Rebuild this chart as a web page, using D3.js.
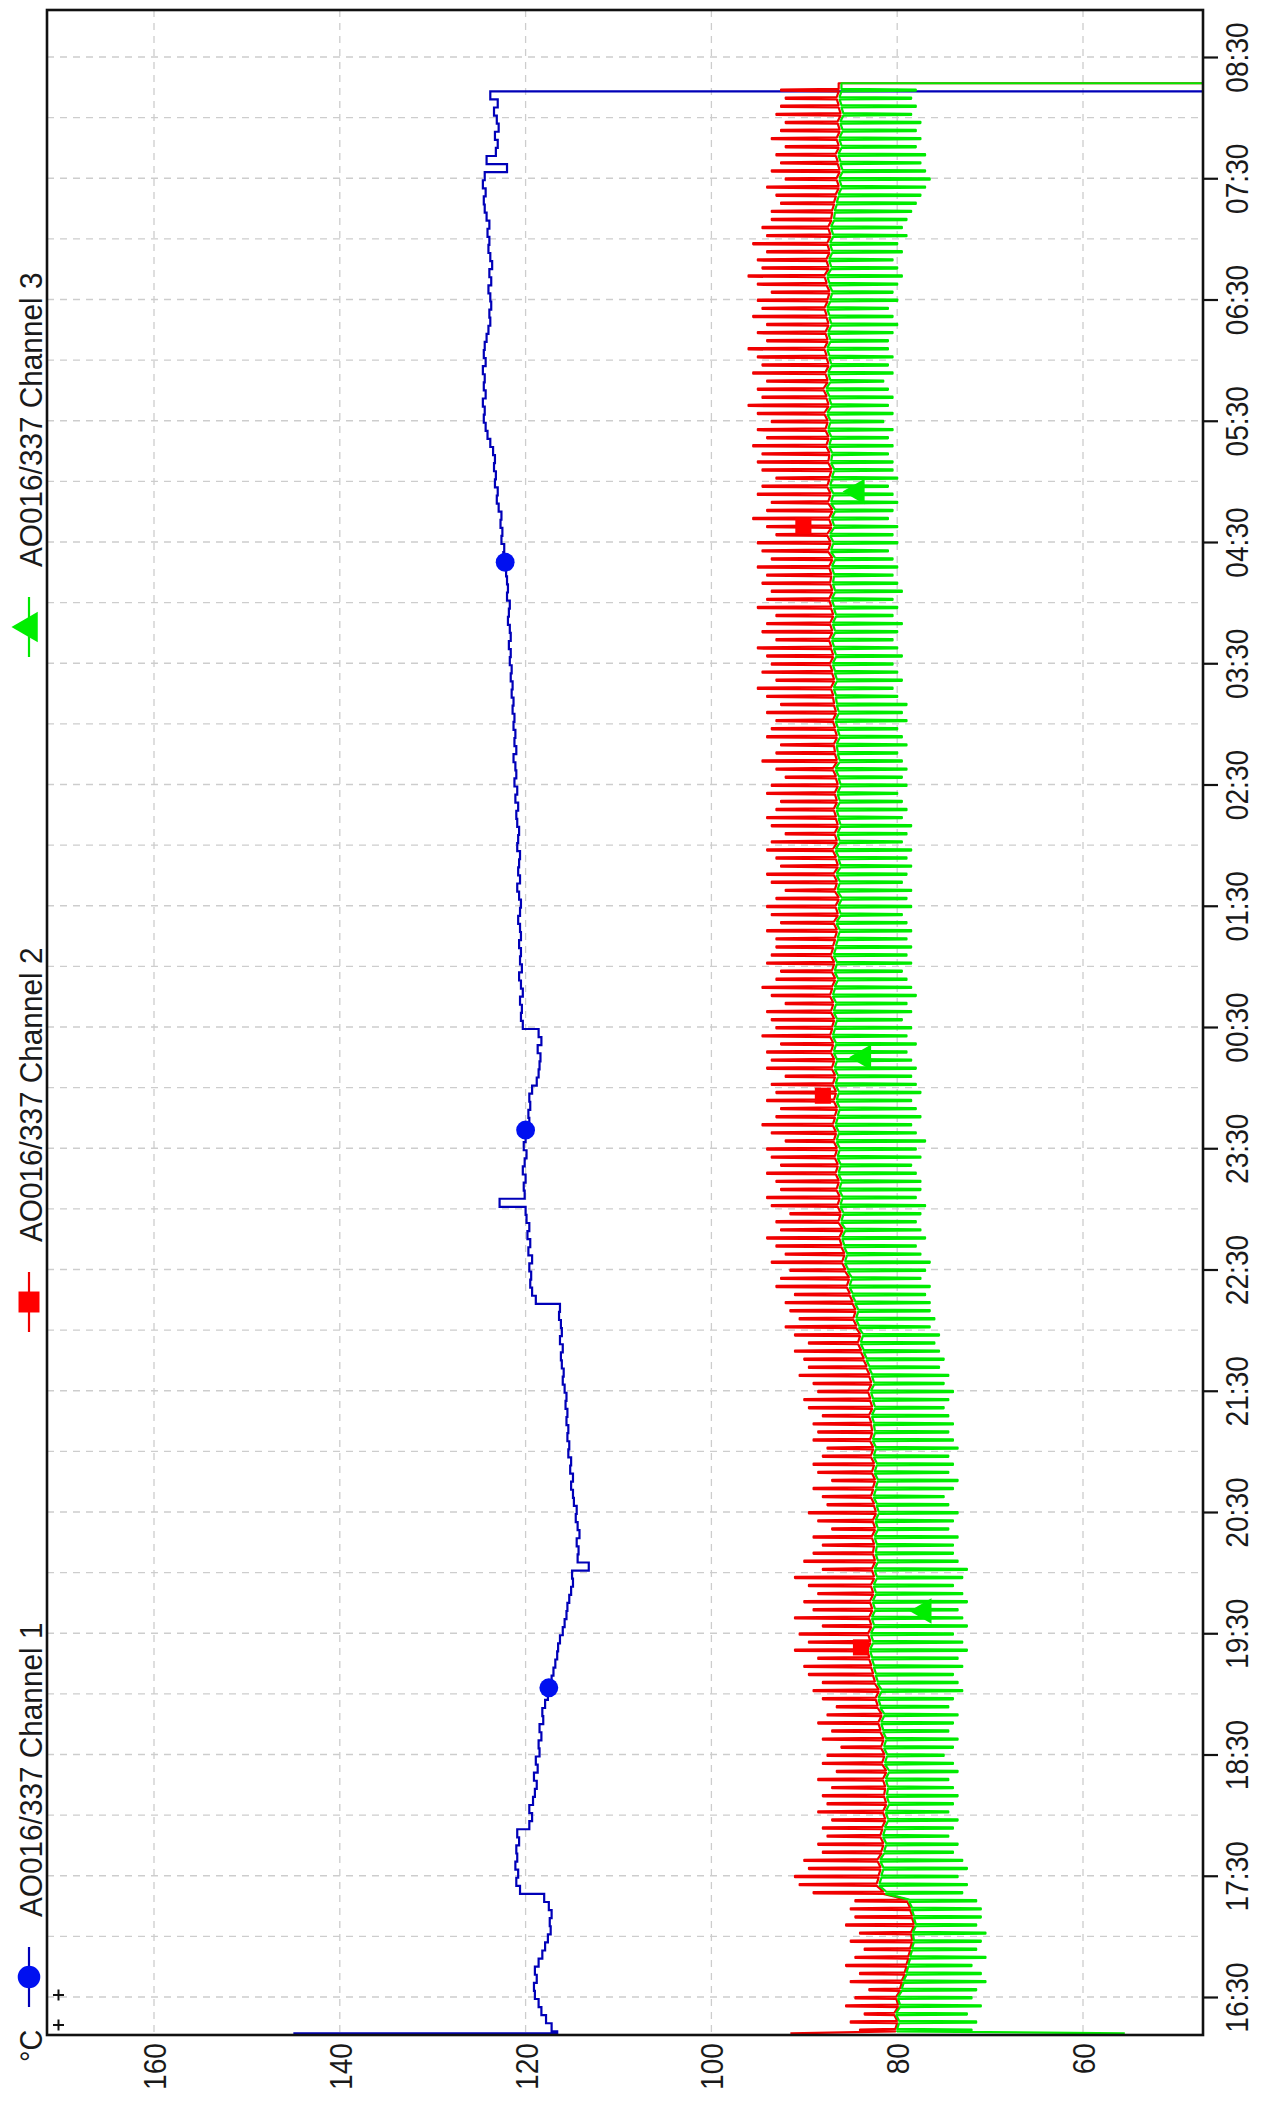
<!DOCTYPE html>
<html><head><meta charset="utf-8">
<script src="https://cdn.jsdelivr.net/npm/d3@7"></script>
<style>body{margin:0;background:#fff}svg{display:block}</style>
</head><body><svg id="c" width="1263" height="2101"></svg>
<script>
// ---------- data ----------
const seriesNames = ["AO016/337 Channel 1", "AO016/337 Channel 2", "AO016/337 Channel 3"];
const unitLabel = "°C";
const valueTicks = [160, 140, 120, 100, 80, 60];
const timeTickLabels = ["16:30","17:30","18:30","19:30","20:30","21:30","22:30","23:30","00:30","01:30","02:30","03:30","04:30","05:30","06:30","07:30","08:30"];
const firstSampleTime = "16:13";   // first regular sample
const sampleStepMin = 4;           // minutes between samples
const startTime = "16:12";         // logger connect
const endTime = "08:17";           // logger disconnect
const startValues = [145, 91.5, 55.5];
const endValues = [30, 30, 30];

// Channel 1 (one value per sample)
const ch1 = [
116.6,117.2,117.8,118.3,118.6,119.0,119.1,118.8,119.0,118.6,118.2,117.9,117.6,117.3,117.4,
117.2,117.5,118.0,120.6,121.0,120.8,121.1,120.9,121.0,120.7,120.9,119.6,119.3,119.6,119.2,
119.0,118.8,119.1,118.7,118.9,118.5,118.6,118.3,118.5,118.1,118.2,117.9,117.6,117.5,117.2,
117.0,116.8,116.6,116.5,116.3,116.0,115.8,115.6,115.5,115.3,115.1,114.9,115.0,113.2,114.4,
114.3,114.5,114.2,114.4,114.6,114.5,114.8,114.9,115.1,114.9,115.2,115.1,115.4,115.3,115.5,
115.4,115.6,115.5,115.7,115.6,115.8,116.0,115.9,116.1,116.2,116.0,116.3,116.1,116.2,116.4,
116.3,118.9,119.3,119.5,119.4,119.6,119.3,119.7,119.5,119.8,119.6,119.9,120.0,122.8,120.1,
120.2,120.0,120.3,120.1,119.9,120.2,120.0,119.8,119.6,119.7,119.5,119.6,119.3,118.8,118.6,
118.5,118.4,118.7,118.3,118.6,120.3,120.5,120.4,120.6,120.3,120.5,120.7,120.4,120.6,120.5,
120.7,120.5,120.6,120.8,120.6,120.5,120.7,120.9,120.6,120.8,120.7,120.6,120.9,120.8,120.7,
120.9,121.0,120.8,121.1,120.9,121.2,121.0,121.1,121.3,121.0,121.2,121.1,121.3,121.2,121.4,
121.3,121.5,121.4,121.6,121.5,121.7,121.6,121.8,121.6,121.7,121.9,121.8,121.7,122.0,121.9,
122.0,122.1,122.2,122.4,122.3,122.6,122.5,122.7,122.6,122.9,123.1,123.0,123.3,123.2,123.4,
123.3,123.5,123.8,124.1,124.3,124.5,124.4,124.6,124.3,124.5,124.4,124.6,124.3,124.5,124.4,
124.2,124.0,123.8,123.9,123.7,123.8,124.0,123.7,123.9,123.6,123.8,124.0,123.9,124.1,123.9,
124.2,124.4,124.5,124.3,124.6,124.4,122.0,124.2,123.2,123.0,123.3,122.9,123.1,123.4,123.0,
123.8];

// Channel 2: resting value at each sample and the short spike that follows it
const ch2Base = [
80.2,80.0,80.3,79.9,80.1,79.7,79.5,79.2,79.0,78.8,78.6,78.4,78.5,78.2,78.4,
78.6,78.9,81.5,82.2,82.0,81.8,82.1,81.7,81.5,81.8,81.6,81.3,81.5,81.2,81.4,
81.3,81.5,81.2,81.6,81.4,81.7,81.5,81.8,82.0,81.7,82.1,82.3,82.0,82.4,82.6,
82.8,83.0,83.2,82.9,83.1,82.8,83.0,82.7,82.9,82.6,82.8,82.5,82.7,82.4,82.6,
82.5,82.7,82.4,82.6,82.3,82.5,82.8,82.6,82.4,82.7,82.5,82.8,82.6,82.9,82.7,
82.8,83.0,82.7,82.9,83.1,82.8,83.0,83.3,83.6,83.9,84.2,84.0,84.4,84.7,84.5,
84.8,85.1,85.4,85.2,85.6,85.9,85.7,86.0,86.2,85.9,86.3,86.1,86.4,86.2,86.5,
86.3,86.6,86.4,86.7,86.5,86.8,86.6,86.9,86.7,86.5,86.8,86.6,86.9,86.7,87.0,
86.8,87.1,86.9,87.2,87.0,86.8,87.1,86.9,87.2,87.0,86.7,87.0,86.8,87.1,86.9,
86.7,86.5,86.8,86.4,86.6,86.3,86.7,86.5,86.8,86.4,86.6,86.9,86.5,86.7,86.4,
86.6,86.8,86.5,86.7,86.4,86.6,86.9,86.5,86.7,86.8,86.5,86.7,86.9,86.6,86.8,
86.9,87.1,86.8,87.0,87.2,86.9,87.1,87.3,87.0,87.2,86.9,87.1,87.3,87.0,87.2,
87.1,87.3,87.0,87.4,87.2,87.5,87.1,87.3,87.0,87.4,87.2,87.5,87.3,87.1,87.4,
87.3,87.6,87.4,87.7,87.5,87.8,87.4,87.6,87.9,87.5,87.7,87.4,87.6,87.8,87.5,
87.7,87.4,87.6,87.8,87.5,87.3,87.6,87.8,87.4,87.6,87.3,87.5,87.2,87.4,87.1,
87.0,86.8,86.6,86.3,86.5,86.2,86.4,86.6,86.3,86.5,86.2,86.4,86.1,86.3,86.5,
86.3];
const ch2Peak = [
84,85,83.5,85.5,84.5,83,85,84,85.5,84.5,83.5,85,84,85.5,84.5,
85,84.5,89,90.5,91,89.5,90,88,88.5,87.5,88,87,88.5,87.5,88,
87,88.5,86.5,88,87.5,86,88,87,88.5,87.5,86.5,88,89,88,89.5,
90,88.5,91,89.5,90.5,88,91,89,90,88.5,89.5,91,88,90,89,
88,89,87,88.5,89.5,87.5,88,89,87,88.5,89,88,87.5,89,88.5,
89,88,89.5,90,88.5,89,90.5,89.5,90,91,89.5,91,92,90.5,91.5,
92,91,93,92.5,91.5,93.5,92,93,94,92.5,93,91.5,93.5,94,92.5,
93,94,92.5,93.5,94,92,93.5,94.5,93,92.5,94,93,93.5,92,94,
93.5,94,92.5,94.5,93,93.5,94,92,93.5,94.5,93,92.5,94,93.5,93,
93,94,92.5,93.5,94,93,92,93.5,94,92.5,93,94,93.5,92,93.5,
94,93,92.5,94,93.5,92,93,94.5,93,92.5,94,93.5,93,94,92.5,
94,95,93,94.5,93.5,94,95,93,94.5,94,93,95,94,93.5,94.5,
94,95,93.5,94.5,95,93,94,95.5,94,93.5,95,94.5,93,94.5,95,
94.5,95.5,94,95,93.5,95,96,94.5,95,94,95.5,94.5,95,96,94,
95,94,95.5,94.5,95,93.5,95,96,94.5,95,94,95.5,94,94.5,93.5,
93.5,92.5,93,94,92,93.5,92.5,93,92,93.5,92.5,92,93,92.5,92,
92.5];

// Channel 3: resting value at each sample and the short dip that follows it
const ch3Base = [
80.0,79.8,80.1,79.7,79.9,79.5,79.3,79.0,78.8,78.6,78.4,78.2,78.3,78.0,78.2,
78.4,78.7,81.2,81.9,81.7,81.5,81.8,81.4,81.2,81.5,81.3,81.0,81.2,80.9,81.1,
81.0,81.2,80.9,81.3,81.1,81.4,81.2,81.5,81.7,81.4,81.8,82.0,81.7,82.1,82.3,
82.5,82.7,82.9,82.6,82.8,82.5,82.7,82.4,82.6,82.3,82.5,82.2,82.4,82.1,82.3,
82.2,82.4,82.1,82.3,82.0,82.2,82.5,82.3,82.1,82.4,82.2,82.5,82.3,82.6,82.4,
82.5,82.7,82.4,82.6,82.8,82.5,82.7,83.0,83.3,83.6,83.9,83.7,84.1,84.4,84.2,
84.5,84.8,85.1,84.9,85.3,85.6,85.4,85.7,85.9,85.6,86.0,85.8,86.1,85.9,86.2,
86.0,86.3,86.1,86.4,86.2,86.5,86.3,86.6,86.4,86.2,86.5,86.3,86.6,86.4,86.7,
86.5,86.8,86.6,86.9,86.7,86.5,86.8,86.6,86.9,86.7,86.4,86.7,86.5,86.8,86.6,
86.4,86.2,86.5,86.1,86.3,86.0,86.4,86.2,86.5,86.1,86.3,86.6,86.2,86.4,86.1,
86.3,86.5,86.2,86.4,86.1,86.3,86.6,86.2,86.4,86.5,86.2,86.4,86.6,86.3,86.5,
86.6,86.8,86.5,86.7,86.9,86.6,86.8,87.0,86.7,86.9,86.6,86.8,87.0,86.7,86.9,
86.8,87.0,86.7,87.1,86.9,87.2,86.8,87.0,86.7,87.1,86.9,87.2,87.0,86.8,87.1,
87.0,87.3,87.1,87.4,87.2,87.5,87.1,87.3,87.6,87.2,87.4,87.1,87.3,87.5,87.2,
87.4,87.1,87.3,87.5,87.2,87.0,87.3,87.5,87.1,87.3,87.0,87.2,86.9,87.1,86.8,
86.7,86.5,86.3,86.0,86.2,85.9,86.1,86.3,86.0,86.2,85.9,86.1,85.8,86.0,86.2,
86.0];
const ch3Dip = [
72,71.5,72.5,71,72,71.5,70.5,71,72,70.5,71.5,71,70.5,71.5,71,
71,71.5,73,72.5,73.5,72.5,73,74,73.5,74.5,74,73.5,74.5,74,73.5,
74,74.5,73.5,74,75,74,73.5,74.5,74,73.5,74.5,74,73,73.5,74,
73,73.5,72.5,73,74,72.5,73,73.5,72.5,73,74,73,72.5,73.5,74,
74,73.5,74.5,74,73.5,74.5,75,74,73.5,74.5,74,74.5,73.5,74,74.5,
74,74.5,75,74.5,74,75,74.5,75.5,75,75.5,76,75.5,76.5,76,76.5,
76.5,77,76.5,77.5,77,76.5,77.5,78,77,77.5,78,77.5,77,78,77.5,
77.5,78,78.5,77.5,78,77,78,78.5,77.5,78,78.5,77.5,78,78.5,78,
78.5,79,78,79,78.5,79.5,78.5,79,78,78.5,79,79.5,78.5,79,78.5,
79,78.5,79,79.5,78.5,79,78.5,79.5,79,78.5,79,78.5,79.5,79,78.5,
79.5,79,79.5,80,79,79.5,79,79.5,80,79,79.5,80,79,79.5,79,
80,80.5,79.5,80,80.5,79.5,80,80.5,80,79.5,80.5,80,80.5,79.5,80,
80.5,80,80.5,81,80,80.5,80,81,80.5,80,80.5,81,80,80.5,80.5,
81,80.5,81,80.5,81.5,80.5,81,80.5,81,81.5,80.5,81,80.5,81,81,
80.5,80,80.5,81,80,80.5,80,79.5,80,80.5,79.5,80,79,79.5,79,
78.5,78,77.5,77,76.5,77,77.5,77,78,77.5,78,77.5,78.5,78,78.5,
78];

// marker positions (time, value) for each channel
const ch1MarkTimes = ["19:03", "23:39", "04:20"];
const ch1MarkValues = [117.5, 120.0, 122.2];
const ch2MarkTimes = ["19:23", "23:56", "04:38"];
const ch2MarkValues = [83.9, 88.0, 90.1];
const ch3MarkTimes = ["19:41", "00:15", "04:55"];
const ch3MarkValues = [77.1, 83.6, 84.3];

// ---------- styles ----------
const colors = ["#0000b8", "#f00000", "#00ea00"];
const markColors = ["#0010f0", "#ff0000", "#00ee00"];
const FONT = "'Liberation Sans','Arial',sans-serif";
const TXT = "#1a1a1a";

// ---------- layout ----------
const plot = {left: 47, right: 1203, top: 10, bottom: 2035};
const svg = d3.select("#c");
svg.append("rect").attr("width", 1263).attr("height", 2101).attr("fill", "#fff");

const parseHM = s => { const [h, m] = s.split(":").map(Number); return new Date(2021, 0, h >= 12 ? 1 : 2, h, m); };
const addMin = (d, m) => new Date(d.getTime() + m * 60000);

const x = d3.scaleLinear().domain([160, 60]).range([154, 1083]);
const y = d3.scaleTime().domain([parseHM("16:30"), parseHM("08:30")]).range([1997, 57]);

// clip
svg.append("defs").append("clipPath").attr("id", "clip")
  .append("rect").attr("x", plot.left).attr("y", plot.top)
  .attr("width", plot.right - plot.left).attr("height", plot.bottom - plot.top);

// grid
const grid = svg.append("g").attr("stroke", "#cdcdcd").attr("stroke-width", 1.3).attr("stroke-dasharray", "7,6");
const halfHours = d3.timeMinute.every(30).range(y.invert(plot.bottom), y.invert(plot.top));
grid.selectAll("line.h").data(halfHours).join("line").attr("class", "h")
  .attr("x1", plot.left).attr("x2", plot.right).attr("y1", d => y(d)).attr("y2", d => y(d));
grid.selectAll("line.v").data(valueTicks).join("line").attr("class", "v")
  .attr("x1", d => x(d)).attr("x2", d => x(d)).attr("y1", plot.top).attr("y2", plot.bottom);

// series
const sampleTimes = ch1.map((_, i) => addMin(parseHM(firstSampleTime), i * sampleStepMin));
const lineLin = d3.line().x(d => x(d.v)).y(d => y(d.t));
const lineStep = d3.line().x(d => x(d.v)).y(d => y(d.t)).curve(d3.curveStepAfter);
function plain(vals, k) {
  const pts = [{t: parseHM(startTime), v: startValues[k]}];
  vals.forEach((v, i) => pts.push({t: sampleTimes[i], v}));
  pts.push({t: parseHM(endTime), v: endValues[k]});
  return pts;
}
function spiky(base, spike, k) {
  const pts = [{t: parseHM(startTime), v: startValues[k]}];
  const n = Math.min(base.length, spike.length, sampleTimes.length);
  for (let i = 0; i < n; i++) {
    const t = sampleTimes[i];
    pts.push({t, v: base[i]});
    pts.push({t: addMin(t, 0.3), v: spike[i]});
    pts.push({t: addMin(t, 0.9), v: spike[i]});
    pts.push({t: addMin(t, 1.2), v: base[i]});
  }
  const end = parseHM(endTime);
  pts.push({t: end, v: base[n - 1]});
  pts.push({t: end, v: endValues[k]});
  return pts;
}
const gSeries = svg.append("g").attr("clip-path", "url(#clip)");
gSeries.append("path").datum(plain(ch1, 0)).attr("d", lineStep)
  .attr("fill", "none").attr("stroke", colors[0]).attr("stroke-width", 2.2);
[[ch2Base, ch2Peak, 1], [ch3Base, ch3Dip, 2]].forEach(([b, s, k]) => {
  gSeries.append("path").datum(spiky(b, s, k)).attr("d", lineLin)
    .attr("fill", "none").attr("stroke", colors[k]).attr("stroke-width", 2.2)
    .attr("stroke-linejoin", "round");
});

// markers
const symbols = [d3.symbolCircle, d3.symbolSquare, d3.symbolTriangle];
const markSets = [[ch1MarkTimes, ch1MarkValues], [ch2MarkTimes, ch2MarkValues], [ch3MarkTimes, ch3MarkValues]];
markSets.forEach(([ts, vs], k) => {
  const sym = d3.symbol().type(symbols[k]).size(k === 1 ? 260 : 280);
  gSeries.selectAll(null).data(ts.map((t, i) => ({t: parseHM(t), v: vs[i]}))).join("path")
    .attr("d", sym)
    .attr("transform", d => `translate(${x(d.v)},${y(d.t)}) rotate(-90)`)
    .attr("fill", markColors[k]);
});

// frame
svg.append("rect").attr("x", plot.left).attr("y", plot.top)
  .attr("width", plot.right - plot.left).attr("height", plot.bottom - plot.top)
  .attr("fill", "none").attr("stroke", "#111").attr("stroke-width", 2.6);

// time axis (right)
const timeTicks = timeTickLabels.map(parseHM);
const tAxis = svg.append("g").attr("transform", `translate(${plot.right},0)`)
  .call(d3.axisRight(y).tickValues(timeTicks).tickSize(15).tickFormat(d3.timeFormat("%H:%M")));
tAxis.select(".domain").remove();
tAxis.selectAll(".tick line").attr("stroke", "#111").attr("stroke-width", 2.2);
tAxis.selectAll(".tick text")
  .attr("x", null).attr("dy", null).attr("transform", "translate(45,0) rotate(-90) scale(0.88,1)")
  .attr("text-anchor", "middle").attr("fill", TXT)
  .style("font-family", FONT).style("font-size", "32px");

// value axis (bottom)
const vAxis = svg.append("g").attr("transform", `translate(0,${plot.bottom})`)
  .call(d3.axisBottom(x).tickValues(valueTicks).tickSize(0).tickFormat(d3.format("d")));
vAxis.select(".domain").remove();
vAxis.selectAll(".tick text")
  .attr("y", null).attr("dy", "0.36em").attr("transform", "translate(0,8) rotate(-90) scale(0.88,1)")
  .attr("text-anchor", "end").attr("fill", TXT)
  .style("font-family", FONT).style("font-size", "32px");

// unit label
svg.append("text").attr("transform", "translate(42,2062) rotate(-90) scale(0.9,1)")
  .attr("fill", TXT).style("font-family", FONT).style("font-size", "32px").text(unitLabel);

// small cursor crosses near the origin
const cross = svg.append("g").attr("stroke", "#111").attr("stroke-width", 2);
[1995, 2025].forEach(cy => {
  cross.append("line").attr("x1", 53).attr("x2", 64).attr("y1", cy).attr("y2", cy);
  cross.append("line").attr("x1", 58.5).attr("x2", 58.5).attr("y1", cy - 5.5).attr("y2", cy + 5.5);
});

// legend
const legY = d3.scaleLinear().domain([0, 2]).range([1977, 627]);
seriesNames.forEach((name, k) => {
  const cy = legY(k);
  const g = svg.append("g");
  g.append("line").attr("x1", 29).attr("x2", 29).attr("y1", cy - 30).attr("y2", cy + 30)
    .attr("stroke", colors[k]).attr("stroke-width", 2.2);
  g.append("path").attr("d", d3.symbol().type(symbols[k]).size(k === 1 ? 440 : 400))
    .attr("transform", `translate(29,${cy}) rotate(-90)`).attr("fill", markColors[k]);
  g.append("text").attr("transform", `translate(42,${cy - 60}) rotate(-90) scale(0.93,1)`)
    .attr("fill", TXT).style("font-family", FONT).style("font-size", "32px").text(name);
});
</script>
</body></html>
